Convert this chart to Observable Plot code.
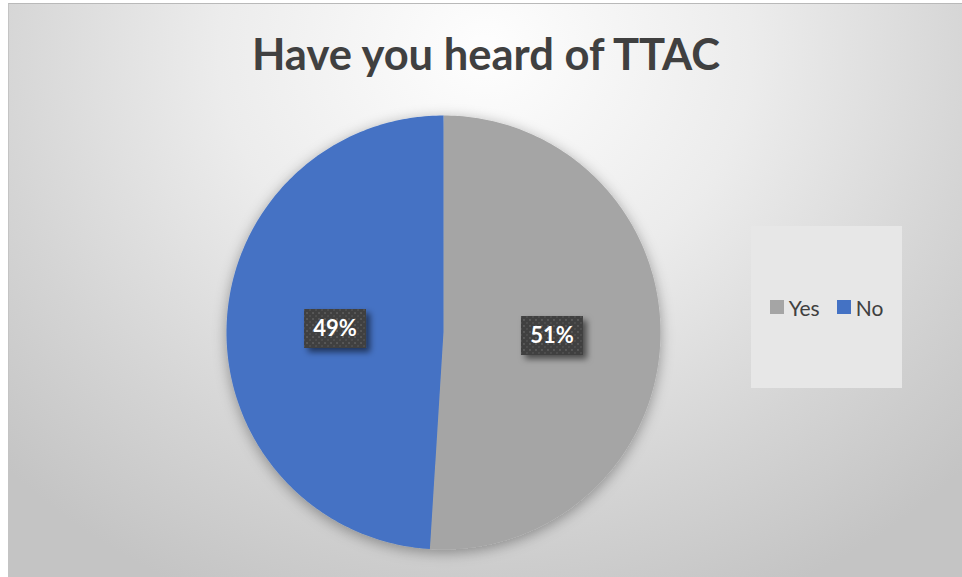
<!DOCTYPE html>
<html>
<head>
<meta charset="utf-8">
<script src="https://cdn.jsdelivr.net/npm/d3@7"></script>
<script src="https://cdn.jsdelivr.net/npm/@observablehq/plot@0.6"></script>
<style>
  html, body { margin: 0; padding: 0; background: #ffffff; }
  #chart {
    position: absolute; left: 8px; top: 3px; width: 954px; height: 574px;
    box-sizing: border-box;
    border-top: 1px solid #b9b9b9; border-left: 1px solid #c4c4c4;
    background: radial-gradient(ellipse 70% 105% at 50% 8%, #fefefe 0%, #ececec 40%, #d4d4d4 75%, #c4c4c4 100%);
    overflow: hidden;
    font-family: Lato, "Open Sans", sans-serif;
  }
  #chart svg { position: absolute; left: 0; top: 0; }
  #title {
    position: absolute; left: 0; top: 23px; width: 954px; text-align: center;
    font: 700 43.5px Lato, "Open Sans", sans-serif; color: #404040; letter-spacing: 0px;
  }
  #legend {
    position: absolute; left: 742px; top: 222px; width: 151px; height: 162px;
    background: #e7e7e7;
    display: flex; align-items: center; justify-content: center; gap: 17px;
    font: 400 21px Lato, "Open Sans", sans-serif; color: #404040;
  }
  .item { display: flex; align-items: center; gap: 5px; }
  .sw { width: 14px; height: 14px; display: inline-block; }
</style>
</head>
<body>
<div id="chart">
  <div id="title"></div>
  <div id="legend"></div>
</div>
<script>
const title = "Have you heard of TTAC";
const categories = ["Yes", "No"];
const values = [51, 49];
const labels = ["51%", "49%"];
const colors = ["#a5a5a5", "#4472c4"];

// layout
const W = 953, H = 573;
const cx = 434, cy = 328, r = 217;

document.getElementById("title").textContent = title;

const arcs = d3.pie().sort(null).value(d => d)(values);

// slice outlines in unit-circle coordinates (angle 0 at 12 o'clock, clockwise)
const points = [];
arcs.forEach((a, i) => {
  const key = categories[i];
  points.push({key, x: 0, y: 0});
  const n = 180;
  for (let k = 0; k <= n; k++) {
    const t = a.startAngle + (a.endAngle - a.startAngle) * k / n;
    points.push({key, x: Math.sin(t), y: Math.cos(t)});
  }
  points.push({key, x: 0, y: 0});
});

const labelData = arcs.map((a, i) => {
  const m = (a.startAngle + a.endAngle) / 2;
  return {key: categories[i], text: labels[i], x: 0.5 * Math.sin(m), y: 0.5 * Math.cos(m)};
});

const boxSymbol = { draw(ctx) { ctx.moveTo(-31, -20); ctx.lineTo(31, -20); ctx.lineTo(31, 19); ctx.lineTo(-31, 19); ctx.closePath(); } };

const svg = Plot.plot({
  width: W, height: H, margin: 0,
  style: {background: "transparent", overflow: "visible"},
  x: {domain: [-1, 1], range: [cx - r, cx + r], axis: null},
  y: {domain: [-1, 1], range: [cy + r, cy - r], axis: null},
  color: {domain: categories, range: colors},
  marks: [
    Plot.line(points, {x: "x", y: "y", z: "key", fill: "key", stroke: "none", curve: "linear"}),
    Plot.dot(labelData, {x: "x", y: "y", r: 20, symbol: boxSymbol, fill: "url(#dotpat)", stroke: "none"}),
    Plot.text(labelData, {x: "x", y: "y", text: "text", fill: "white", fontSize: 22, fontWeight: 700, fontFamily: "Lato, 'Open Sans', sans-serif"})
  ]
});

// defs: shadow filters and dotted pattern
const ns = "http://www.w3.org/2000/svg";
const defs = document.createElementNS(ns, "defs");
defs.innerHTML = `
  <filter id="pieShadow" x="-20%" y="-20%" width="140%" height="140%">
    <feDropShadow dx="0" dy="3" stdDeviation="7" flood-color="#000" flood-opacity="0.35"/>
  </filter>
  <filter id="boxShadow" x="-30%" y="-30%" width="160%" height="160%">
    <feDropShadow dx="4" dy="4" stdDeviation="3" flood-color="#000" flood-opacity="0.55"/>
  </filter>
  <pattern id="dotpat" patternUnits="userSpaceOnUse" width="6" height="6">
    <rect width="6" height="6" fill="#3f3f3f"/>
    <rect x="1" y="1" width="2" height="2" fill="#585858"/>
    <rect x="4" y="4" width="2" height="2" fill="#4e4e4e"/>
  </pattern>`;
svg.insertBefore(defs, svg.firstChild);
const gLine = svg.querySelector('g[aria-label="line"]');
if (gLine) gLine.setAttribute("filter", "url(#pieShadow)");
const gDot = svg.querySelector('g[aria-label="dot"]');
if (gDot) gDot.setAttribute("filter", "url(#boxShadow)");

document.getElementById("chart").appendChild(svg);

// legend
const legend = document.getElementById("legend");
categories.forEach((c, i) => {
  const item = document.createElement("div");
  item.className = "item";
  const sw = document.createElement("span");
  sw.className = "sw";
  sw.style.background = colors[i];
  const lab = document.createElement("span");
  lab.textContent = c;
  item.appendChild(sw); item.appendChild(lab);
  legend.appendChild(item);
});
</script>
</body>
</html>
